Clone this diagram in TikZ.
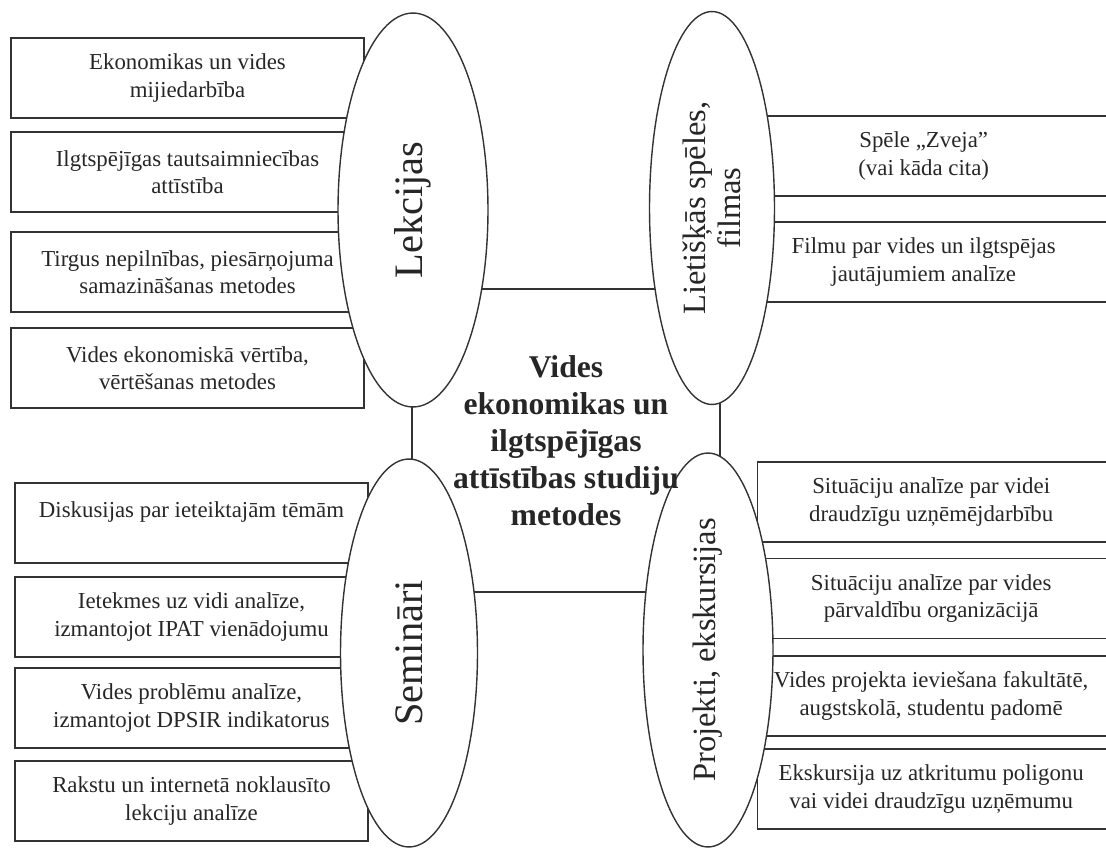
\documentclass[tikz,border=0pt]{standalone}
\usepackage{fontspec}
\setmainfont{Liberation Serif}
\usetikzlibrary{shapes.geometric}

\tikzset{
  box/.style={draw=black!80, line width=0.8pt, minimum width=7.06cm, minimum height=1.6cm,
    align=center, inner sep=1pt, text=black!85, font=\fontsize{13}{15.5}\selectfont},
  rbox/.style={box, anchor=west, minimum width=7.6cm},
  pbox/.style={rbox, minimum width=8.3cm},
  oval/.style={ellipse, draw=black!80, line width=0.8pt, fill=white, rotate=90,
    inner sep=0pt, align=center, text=black!85},
}
% right boxes run past the page edge, so pull their text to the left
\newcommand{\rlines}[1]{\begin{tabular}{@{}c@{}}#1\end{tabular}\hspace{1.36cm}}

\begin{document}
\begin{tikzpicture}[x=0.02cm, y=-0.02cm]
        \useasboundingbox (0,0) rectangle (1106,848);
        \clip (0,0) rectangle (1106,848);

        % Centre frame
        \node[draw=black!80, line width=0.8pt, minimum width=6.16cm, minimum height=6.06cm] (ctr) at (566,440.5) {};

        % Lekcijas boxes
        \foreach \n/\y/\t in {1/78/{Ekonomikas un vides\\mijiedarbība},
                              2/172/{Ilgtspējīgas tautsaimniecības\\attīstība},
                              3/272/{Tirgus nepilnības, piesārņojuma\\samazināšanas metodes},
                              4/368/{Vides ekonomiskā vērtība,\\vērtēšanas metodes}} {
            \node[box] (lek\n) at (187.5,\y) {\t};
        }

        % Seminari boxes
        \foreach \n/\y/\t in {1/523/{Diskusijas par ieteiktajām tēmām\\\mbox{}},
                              2/617/{Ietekmes uz vidi analīze,\\izmantojot IPAT vienādojumu},
                              3/708/{Vides problēmu analīze,\\izmantojot DPSIR indikatorus},
                              4/801/{Rakstu un internetā noklausīto\\lekciju analīze}} {
            \node[box] (sem\n) at (191.5,\y) {\t};
        }

        % Speles boxes
        \foreach \n/\y/\t in {1/156/{Spēle „Zveja”\\(vai kāda cita)},
                              2/262/{Filmu par vides un ilgtspējas\\jautājumiem analīze}} {
            \node[rbox] (spe\n) at (767,\y) {\rlines{\t}};
        }

        % Projekti boxes
        \foreach \n/\y/\t in {1/502/{Situāciju analīze par videi\\draudzīgu uzņēmējdarbību},
                              2/598.5/{Situāciju analīze par vides\\pārvaldību organizācijā},
                              3/696/{Vides projekta ieviešana fakultātē,\\augstskolā, studentu padomē},
                              4/789/{Ekskursija uz atkritumu poligonu\\vai videi draudzīgu uzņēmumu}} {
            \node[pbox] (pro\n) at (757,\y) {\rlines{\t}};
        }

        % Ovals
        \node[oval, minimum width=7.88cm, minimum height=3cm, font=\fontsize{23}{26}\selectfont] (lek) at (413,210) {Lekcijas};
        \node[oval, minimum width=7.86cm, minimum height=2.5cm, font=\fontsize{18.5}{20}\selectfont] (spe) at (712,208) {Lietišķās spēles,\\filmas};
        \node[oval, minimum width=7.76cm, minimum height=2.74cm, font=\fontsize{23}{26}\selectfont] (sem) at (409,653) {Semināri};
        \node[oval, minimum width=7.88cm, minimum height=2.6cm, font=\fontsize{18.5}{20}\selectfont] (pro) at (708,650) {Projekti, ekskursijas};

        % Title
        \node[align=center, text=black!85, font=\bfseries\fontsize{18}{21}\selectfont] (ttl) at (ctr) {Vides\\ekonomikas un\\ilgtspējīgas\\attīstības studiju\\metodes};
    \end{tikzpicture}
\end{document}
